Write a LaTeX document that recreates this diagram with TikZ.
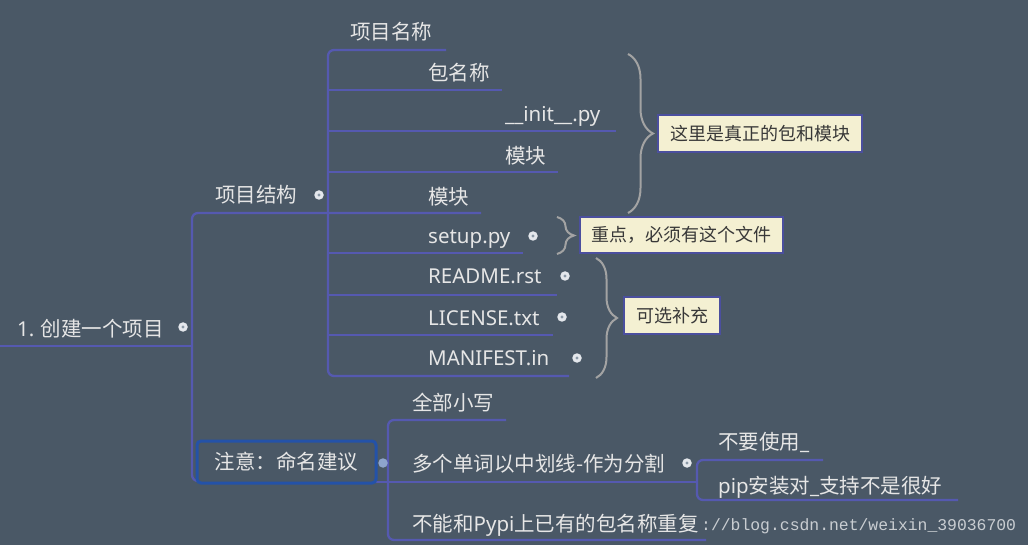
\documentclass[tikz,border=0pt]{standalone}
\usepackage{fontspec}
\setmainfont{Noto Sans CJK SC}
\newfontfamily\latf{Noto Sans}
\newfontfamily\monof{Liberation Mono}
\usetikzlibrary{decorations.pathreplacing}
\definecolor{bg}{HTML}{4A5866}
\definecolor{ln}{HTML}{5559B0}
\definecolor{txt}{HTML}{E6E6E6}
\definecolor{note}{HTML}{F4F0D2}
\definecolor{noteb}{HTML}{4B4F9E}
\definecolor{brc}{HTML}{A3A3A3}
\definecolor{selb}{HTML}{2452A8}
\definecolor{knobc}{HTML}{E4E7EC}
\definecolor{knobi}{HTML}{8A98A6}
\newcommand\lt[1]{{\latf #1}}
\begin{document}
\begin{tikzpicture}[x=1pt,y=-1pt,
  lbl/.style={anchor=base west, inner sep=0pt, text=txt, font=\fontsize{20.5}{25}\selectfont},
  branch/.style={draw=ln, line width=2.3pt, rounded corners=6pt},
  knob/.style={circle, fill=knobc, inner sep=0pt, minimum size=9.5pt},
  callout/.style={draw=noteb, line width=1.6pt, fill=note, text=black!78, font=\fontsize{18}{22}\selectfont, inner sep=0pt},
  curly/.style={draw=brc, line width=2pt, decorate, decoration={brace, amplitude=#1}},
  selbox/.style={draw=selb, line width=3pt, rounded corners=4pt, minimum width=179pt, minimum height=42pt, inner sep=0pt, text=txt, font=\fontsize{20.5}{25}\selectfont},
  wmark/.style={anchor=base west, inner sep=0pt, text=white, opacity=0.7, font=\monof\fontsize{16.4}{18}\selectfont}
]
\useasboundingbox (0,0) rectangle (1028,545);
\fill[bg] (0,0) rectangle (1028,545);

% connector coordinates
\coordinate (sA) at (192,213);
\coordinate (sB) at (328,50);
\coordinate (sC) at (388,420);
\coordinate (sD) at (697,460);

% branches: root and first level
\draw[branch] (0,346) -- (192,346);
\draw[branch] (481,213) -- (sA) -- (192,481) -- (198,481);
% project structure spine
\draw[branch] (446,50) -- (sB) -- (328,376) -- (569,376);
\draw[branch] (328,90) -- (502,90);
\draw[branch] (328,131) -- (616,131);
\draw[branch] (328,172) -- (558,172);
\draw[branch] (328,253) -- (523,253);
\draw[branch] (328,295) -- (557,295);
\draw[branch] (328,335) -- (553,335);
% naming notes spine
\draw[branch] (506,420) -- (sC) -- (388,540) -- (706,540);
\draw[branch] (376,482) -- (697,482);
\draw[branch] (823,460) -- (sD) -- (697,500) -- (958,500);

% texts
\node[lbl] (root) at (17,336) {\lt{1.} 创建一个项目};
\node[lbl] (struct) at (215,203) {项目结构};
\node[lbl] (pname) at (350,40) {项目名称};
\node[lbl] (pkg) at (428,81) {包名称};
\node[lbl] (init) at (505,122) {\lt{\_\_init\_\_.py}};
\node[lbl] (mod1) at (505,164) {模块};
\node[lbl] (mod2) at (428,205) {模块};
\node[lbl] (setup) at (428,244) {\lt{setup.py}};
\node[lbl] (readme) at (428,284) {\lt{README.rst}};
\node[lbl] (lic) at (428,325) {\lt{LICENSE.txt}};
\node[lbl] (mani) at (428,365) {\lt{MANIFEST.in}};
\node[selbox] (naming) at (286.5,462) {注意：命名建议};
\node[lbl] (lower) at (412,410) {全部小写};
\node[lbl] (words) at (412,471) {多个单词以中划线-作为分割};
\node[lbl] (pypi) at (412,531) {不能和\lt{Pypi}上已有的包名称重复};
\node[lbl] (nouse) at (718,449) {不要使用\lt{\_}};
\node[lbl] (pip) at (718,493) {\lt{pip}安装对\lt{\_}支持不是很好};

% knobs
\foreach \n/\x/\y in {k1/183/327, k2/319/195, k3/533/236, k4/565/276, k5/562/317, k6/577/358, k7/687/463}{
  \node[knob] (\n) at (\x,\y) {};
  \fill[knobi] (\n.center) circle (1.6pt);
}
\node[knob, fill=knobc!55!selb] (k8) at (383,463) {};

% braces
\draw[curly=25pt] (628,54) -- (628,213);
\draw[curly=17pt] (557,217) -- (557,254);
\draw[curly=21pt] (596,258) -- (596,378);

% callouts
\node[callout, minimum width=204pt, minimum height=37pt] (c1) at (760,133.5) {这里是真正的包和模块};
\node[callout, minimum width=203pt, minimum height=36pt] (c2) at (681.5,235) {重点，必须有这个文件};
\node[callout, minimum width=96pt, minimum height=37pt] (c3) at (672,315.5) {可选补充};

% watermark
\node[wmark] (wm) at (701,530) {://blog.csdn.net/weixin\_39036700};
\end{tikzpicture}
\end{document}
